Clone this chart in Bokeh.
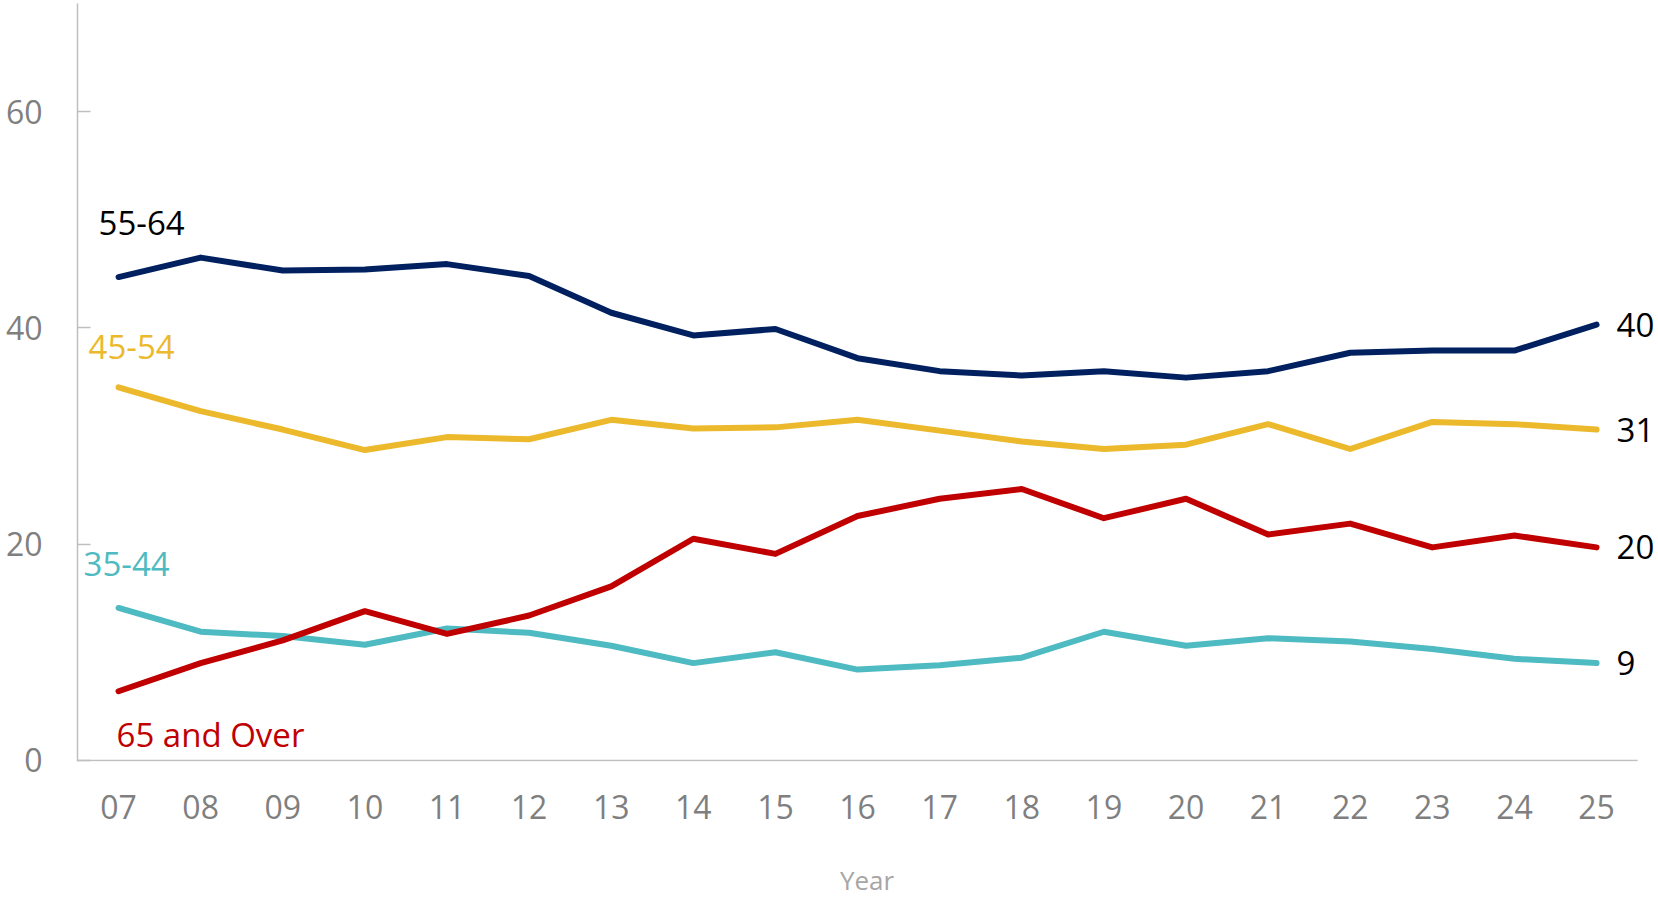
from bokeh.plotting import figure
from bokeh.models import Range1d, FixedTicker, Label, ColumnDataSource
from bokeh.embed import file_html
from bokeh.resources import INLINE

years = ["07", "08", "09", "10", "11", "12", "13", "14", "15", "16",
         "17", "18", "19", "20", "21", "22", "23", "24", "25"]
age_55_64 = [44.7, 46.5, 45.3, 45.4, 45.9, 44.8, 41.4, 39.3, 39.9, 37.2,
             36.0, 35.6, 36.0, 35.4, 36.0, 37.7, 37.9, 37.9, 40.3]
age_45_54 = [34.5, 32.3, 30.6, 28.7, 29.9, 29.7, 31.5, 30.7, 30.8, 31.5,
             30.5, 29.5, 28.8, 29.2, 31.1, 28.8, 31.3, 31.1, 30.6]
age_65_over = [6.4, 9.0, 11.1, 13.8, 11.7, 13.4, 16.1, 20.5, 19.1, 22.6,
               24.2, 25.1, 22.4, 24.2, 20.9, 21.9, 19.7, 20.8, 19.7]
age_35_44 = [14.1, 11.9, 11.5, 10.7, 12.2, 11.8, 10.6, 9.0, 10.0, 8.4,
             8.8, 9.5, 11.9, 10.6, 11.3, 11.0, 10.3, 9.4, 9.0]
y_ticks = [0, 20, 40, 60]

# name, values, line colour, label colour, label nudge (value units), label x nudge (px)
series = [
    ("55-64", age_55_64, "#002060", "#000000", 5.0, -20),
    ("45-54", age_45_54, "#EBB92B", "#EBB92B", 3.7, -30),
    ("35-44", age_35_44, "#4EBAC1", "#4EBAC1", 4.1, -35),
    ("65 and Over", age_65_over, "#C00000", "#C00000", -4.0, -2),
]

FONT = "Open Sans"
xs = list(range(len(years)))
n = len(years)

# x range extends past the last year so the end-value labels have room
p = figure(width=1658, height=900, output_backend="svg", toolbar_location=None,
           x_range=Range1d(-0.5, n - 0.27), y_range=Range1d(-0.1, 70),
           min_border_left=77, min_border_right=2, min_border_top=3,
           min_border_bottom=139)
p.outline_line_color = None
p.grid.grid_line_color = None

p.xaxis.ticker = FixedTicker(ticks=xs)
p.xaxis.major_label_overrides = {i: y for i, y in enumerate(years)}
p.xaxis.major_tick_line_color = None
p.xaxis.minor_tick_line_color = None
p.xaxis.axis_line_color = None
p.xaxis.major_label_text_font = FONT
p.xaxis.major_label_text_font_size = "32px"
p.xaxis.major_label_text_color = "#7F7F7F"
p.xaxis.major_label_standoff = 27
p.xaxis.axis_label = "Year"
p.xaxis.axis_label_text_font = FONT
p.xaxis.axis_label_text_font_size = "26px"
p.xaxis.axis_label_text_font_style = "normal"
p.xaxis.axis_label_text_color = "#A6A6A6"
p.xaxis.axis_label_standoff = 40

# baseline of the category axis, spanning the year slots only
p.segment(x0=[-0.5], y0=[0], x1=[n - 0.5], y1=[0], line_color="#BFBFBF",
          line_width=1.5)

p.yaxis.ticker = FixedTicker(ticks=y_ticks)
p.yaxis.minor_tick_line_color = None
p.yaxis.major_tick_in = 13
p.yaxis.major_tick_out = 0
p.yaxis.major_tick_line_color = "#BFBFBF"
p.yaxis.major_tick_line_width = 1.5
p.yaxis.axis_line_color = "#BFBFBF"
p.yaxis.axis_line_width = 1.5
p.yaxis.major_label_text_font = FONT
p.yaxis.major_label_text_font_size = "32px"
p.yaxis.major_label_text_color = "#7F7F7F"
p.yaxis.major_label_standoff = 35

for name, vals, color, tcolor, dy, dx in series:
    src = ColumnDataSource(dict(x=xs, y=vals))
    p.line("x", "y", source=src, line_color=color, line_width=6,
           line_cap="round", line_join="round")
    p.add_layout(Label(x=xs[0], y=vals[0] + dy, text=name, text_font=FONT,
                       text_font_size="33px", text_color=tcolor, x_offset=dx,
                       text_baseline="middle", text_align="left"))
    p.add_layout(Label(x=xs[-1], y=vals[-1], text=str(round(vals[-1])),
                       text_font=FONT, text_font_size="33px", text_color="#000000",
                       x_offset=20, text_baseline="middle", text_align="left"))

open("out.html", "w").write(file_html(p, INLINE))
